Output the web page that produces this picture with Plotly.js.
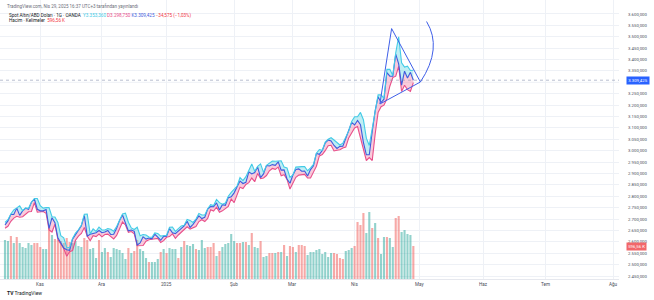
<!DOCTYPE html>
<html><head><meta charset="utf-8">
<script src="https://cdn.plot.ly/plotly-3.0.1.min.js"></script>
<style>html,body{margin:0;padding:0;background:#fff}#chart{width:654px;height:300px}</style>
</head><body><div id="chart"></div>
<script>
// Trading days (one bar each), Oct 16 2024 .. Apr 29 2025
const dates = [
'2024-10-16','2024-10-17','2024-10-18','2024-10-21','2024-10-22','2024-10-23','2024-10-24','2024-10-25','2024-10-28','2024-10-29','2024-10-30','2024-10-31',
'2024-11-01','2024-11-04','2024-11-05','2024-11-06','2024-11-07','2024-11-08','2024-11-11','2024-11-12','2024-11-13','2024-11-14','2024-11-15','2024-11-18','2024-11-19','2024-11-20','2024-11-21','2024-11-22','2024-11-25','2024-11-26','2024-11-27','2024-11-28','2024-11-29',
'2024-12-02','2024-12-03','2024-12-04','2024-12-05','2024-12-06','2024-12-09','2024-12-10','2024-12-11','2024-12-12','2024-12-13','2024-12-16','2024-12-17','2024-12-18','2024-12-19','2024-12-20','2024-12-23','2024-12-24','2024-12-25','2024-12-26','2024-12-27','2024-12-30','2024-12-31',
'2025-01-01','2025-01-02','2025-01-03','2025-01-06','2025-01-07','2025-01-08','2025-01-09','2025-01-10','2025-01-13','2025-01-14','2025-01-15','2025-01-16','2025-01-17','2025-01-20','2025-01-21','2025-01-22','2025-01-23','2025-01-24','2025-01-27','2025-01-28','2025-01-29','2025-01-30','2025-01-31',
'2025-02-03','2025-02-04','2025-02-05','2025-02-06','2025-02-07','2025-02-10','2025-02-11','2025-02-12','2025-02-13','2025-02-14','2025-02-17','2025-02-18','2025-02-19','2025-02-20','2025-02-21','2025-02-24','2025-02-25','2025-02-26','2025-02-27','2025-02-28',
'2025-03-03','2025-03-04','2025-03-05','2025-03-06','2025-03-07','2025-03-10','2025-03-11','2025-03-12','2025-03-13','2025-03-14','2025-03-17','2025-03-18','2025-03-19','2025-03-20','2025-03-21','2025-03-24','2025-03-25','2025-03-26','2025-03-27','2025-03-28','2025-03-31',
'2025-04-01','2025-04-02','2025-04-03','2025-04-04','2025-04-07','2025-04-08','2025-04-09','2025-04-10','2025-04-11','2025-04-14','2025-04-15','2025-04-16','2025-04-17','2025-04-18','2025-04-21','2025-04-22','2025-04-23','2025-04-24','2025-04-25','2025-04-28','2025-04-29'];

const highs = [
2685,2697,2722,2740,2749,2758,2737,2749,2747,2774,2790,2790,
2759,2748,2750,2750,2710,2709,2685,2627,2618,2576,2575,2615,2639,2653,2674,2721,2722,2635,2657,2646,2665,
2652,2652,2658,2655,2647,2667,2697,2722,2726,2686,2661,2654,2664,2627,2632,2630,2621,2620,2639,2637,2625,2627,
2629,2664,2665,2646,2660,2670,2673,2698,2694,2685,2700,2724,2718,2718,2745,2763,2759,2786,2772,2765,2770,2800,2817,
2830,2845,2882,2869,2886,2911,2942,2910,2931,2942,2905,2936,2947,2955,2954,2956,2956,2928,2924,2883,
2894,2928,2930,2930,2930,2912,2925,2940,2989,3005,3002,3038,3050,3057,3047,3036,3025,3033,3060,3087,3128,
3149,3149,3168,3136,3055,3023,3100,3176,3245,3245,3230,3357,3357,3330,3430,3500,3386,3367,3371,3352,3353.36];

const lows = [
2660,2668,2690,2704,2712,2708,2710,2720,2732,2733,2772,2730,
2733,2733,2725,2652,2643,2677,2610,2589,2571,2537,2557,2562,2607,2625,2637,2663,2625,2605,2627,2623,2634,
2622,2632,2634,2624,2613,2628,2657,2687,2674,2642,2645,2635,2583,2583,2584,2603,2609,2611,2612,2615,2597,2605,
2620,2623,2635,2615,2630,2642,2654,2666,2656,2660,2667,2689,2697,2689,2703,2741,2735,2752,2730,2736,2745,2755,2788,
2772,2806,2840,2834,2852,2860,2880,2864,2900,2877,2880,2891,2912,2922,2918,2928,2890,2895,2874,2832,
2858,2883,2893,2895,2896,2880,2880,2906,2932,2977,2983,3000,3022,3024,2999,3002,3004,3012,3016,3056,3076,
3100,3106,3054,3015,2957,2970,2957,3073,3168,3193,3200,3228,3283,3321,3327,3370,3260,3287,3268,3260,3298.75];

const closes = [
2674,2692,2721,2720,2748,2716,2736,2747,2743,2774,2788,2743,
2736,2736,2742,2659,2706,2684,2618,2598,2573,2565,2563,2612,2631,2650,2670,2715,2625,2633,2637,2640,2650,
2640,2643,2650,2632,2633,2660,2694,2718,2680,2648,2652,2646,2586,2595,2622,2612,2617,2613,2634,2621,2607,2624,
2625,2658,2640,2636,2648,2661,2670,2690,2663,2677,2697,2714,2702,2708,2744,2755,2754,2771,2740,2763,2760,2794,2798,
2815,2842,2867,2856,2861,2907,2898,2904,2928,2882,2898,2935,2933,2939,2936,2951,2915,2916,2876,2857,
2893,2918,2920,2910,2911,2889,2917,2934,2988,2984,3001,3034,3047,3043,3023,3010,3019,3020,3056,3084,3124,
3113,3133,3114,3037,2982,2982,3083,3176,3237,3211,3226,3343,3327,3327,3424,3381,3288,3349,3319,3344,3309.425];

// Volume in thousands
const volumes = [
705,687,777,651,759,651,579,560,651,615,651,651,579,542,542,940,
796,723,705,687,651,741,669,651,687,597,579,741,705,542,560,380,705,488,560,488,
398,560,542,524,470,362,560,470,506,705,542,506,380,307,307,307,362,488,542,470,
560,542,542,380,579,687,615,597,633,542,
524,705,560,579,579,651,416,506,579,633,651,814,687,651,651,669,669,615,832,579,
560,687,398,416,470,470,470,488,488,615,416,597,579,488,
615,615,597,434,488,488,524,542,452,488,398,470,470,452,380,362,506,524,560,597,
1031,976,1193,832,1211,922,1012,741,452,759,759,741,579,1103,1139,850,886,814,796,596.56];
const volUp = [
1,1,0,1,0,1,1,1,1,1,0,0,0,1,1,0,
1,0,0,0,0,0,0,1,1,1, 1,0,0,1,1,1,0,1,1,0, 1,1,1,1,1,1,0,1,0,0, 1,1,1,0,1,1,1,0,1,0, 1,1,1,0,1,0,1,1,1,0,
1,1,1,0,0,0,1,0,1,1, 1,1,1,0,0,1,0,1,0,1, 1,0,1,1,0,0,1,0,1,0, 1,0,0,1,
0,0,0,1,1,1,1,1,1,1, 1,1,0,0,0,0,1,1,1,0,
0,0,0,1,1,0,1,0,1,1, 0,1,1,0,0,1,1,1,1,0];

// Time scale: bar index of each month's first session, and labels
const monthTickBar = [12,33,55,78,98,119,141,163,184,207];
const monthTickText = ['Kas','Ara','2025','Şub','Mar','Nis','May','Haz','Tem','Ağu'];
// Price scale labels shown (3.300,000 is covered by the last-price label)
const priceTicks = [2450,2500,2550,2600,2650,2700,2750,2800,2850,2900,2950,3000,3050,3100,3150,3200,3250,3350,3400,3450,3500,3550,3600];
const priceGrid = [3300];

// Drawings (bar index, price)
const triBar = [127.6,131.6,141.4];
const triPrice = [3205,3536,3301.5];
const arcBar = [143.5,149.0,141.4];
const arcPrice = [3567,3450,3301.5];

function fmt(v,d){
  const s=Math.abs(v).toFixed(d); let p=s.split('.');
  let i=p[0].replace(/\B(?=(\d{3})+(?!\d))/g,'.');
  return (v<0?'−':'')+i+(p[1]?','+p[1]:'');
}

const bars = dates.map((d,i)=>i);
const cHigh='#44cbe6', cLow='#e8508a', cClose='#3f5bdc';
const FONT='Roboto, "Liberation Sans", sans-serif';

const traces = [
  {type:'bar', x:bars, y:volumes, yaxis:'y', hoverinfo:'skip',
   marker:{color:volUp.map(u=>u?'rgba(38,166,154,0.5)':'rgba(239,83,80,0.5)'), line:{width:0}}},
  {type:'scatter', mode:'lines', x:bars, y:lows, yaxis:'y2', line:{color:cLow,width:1.1}, hoverinfo:'skip'},
  {type:'scatter', mode:'lines', x:bars, y:closes, yaxis:'y2', fill:'tonexty', fillcolor:'rgba(240,98,146,0.33)', line:{color:cClose,width:1.1}, hoverinfo:'skip'},
  {type:'scatter', mode:'lines', x:bars, y:highs, yaxis:'y2', fill:'tonexty', fillcolor:'rgba(77,208,225,0.36)', line:{color:cHigh,width:1.1}, hoverinfo:'skip'}
];

const n=closes.length, last=closes[n-1], prev=closes[n-2];
const chg=last-prev, pct=chg/prev*100;

const shapes = [
  ...priceGrid.map(p=>({type:'line', layer:'below', xref:'paper', x0:0, x1:1, yref:'y2', y0:p, y1:p, line:{color:'#eef1f6', width:1}})),
  {type:'line', xref:'paper', x0:0, x1:1, yref:'y2', y0:last, y1:last, line:{color:'rgba(130,140,170,0.7)', width:0.8, dash:'dot'}},
  {type:'path', xref:'x', yref:'y2', path:`M ${triBar[0]},${triPrice[0]} L ${triBar[1]},${triPrice[1]} L ${triBar[2]},${triPrice[2]} Z`,
   line:{color:'#3f5fe8', width:1}, fillcolor:'rgba(0,0,0,0)'},
  {type:'path', xref:'x', yref:'y2', path:`M ${arcBar[0]},${arcPrice[0]} Q ${arcBar[1]},${arcPrice[1]} ${arcBar[2]},${arcPrice[2]}`,
   line:{color:'#3f5fe8', width:1}, fillcolor:'rgba(0,0,0,0)'}
];

const monthLabels = monthTickBar.map((b,i)=>({xref:'x', yref:'paper', x:b, y:0, yshift:-5, xanchor:'center', yanchor:'middle',
  showarrow:false, text:monthTickText[i], font:{family:FONT,size:4.6,color:'#4a4e59'}}));

const layout = {
  width:654, height:300, margin:{l:0,r:35,t:0,b:21},
  paper_bgcolor:'#fff', plot_bgcolor:'#fff', showlegend:false, separators:',.',
  bargap:0.28, font:{family:FONT},
  xaxis:{range:[-1.7,209], tickvals:monthTickBar, showticklabels:false, showgrid:true, gridcolor:'#eef1f6', gridwidth:1,
         zeroline:false, showline:true, linecolor:'#e6e8ee', ticks:'', fixedrange:true},
  yaxis:{range:[0,5044], showgrid:false, showticklabels:false, zeroline:false, showline:false, ticks:'', fixedrange:true},
  yaxis2:{overlaying:'y', side:'right', anchor:'x', range:[2436.9,3661.4], tickvals:priceTicks, tickformat:',.3f',
          showgrid:true, gridcolor:'#eef1f6', gridwidth:1, zeroline:false, showline:false, ticks:'', ticklabelstandoff:8,
          tickfont:{family:FONT,size:4.3,color:'#4a4e59'}, fixedrange:true},
  shapes:shapes,
  annotations:[
    ...monthLabels,
    {xref:'paper', yref:'paper', x:0, y:1, xshift:5, yshift:-5.7, xanchor:'left', yanchor:'middle', showarrow:false,
     text:'TradingView.com, Nis 29, 2025 16:37 UTC+3 tarafından yayınlandı', font:{family:FONT,size:4.5,color:'#6a6d78'}},
    {xref:'paper', yref:'paper', x:0, y:1, xshift:7, yshift:-15, xanchor:'left', yanchor:'middle', showarrow:false,
     text:`Spot Altın/ABD Doları · 1G · OANDA  <span style="color:${cHigh}">Y${fmt(highs[n-1],3)}</span> <span style="color:${cLow}">D${fmt(lows[n-1],3)}</span> <span style="color:${cClose}">K${fmt(last,3)}</span> <span style="color:#f23645">${fmt(chg,3)} (${fmt(pct,2)}%)</span>`,
     font:{family:FONT,size:4.6,color:'#131722'}},
    {xref:'paper', yref:'paper', x:0, y:1, xshift:7, yshift:-20.5, xanchor:'left', yanchor:'middle', showarrow:false,
     text:`Hacim · Kelimeler  <span style="color:#f23645">${fmt(volumes[n-1],2)} K</span>`, font:{family:FONT,size:4.6,color:'#131722'}},
    {xref:'paper', yref:'y2', x:1, y:last, xshift:7, xanchor:'left', yanchor:'middle', showarrow:false,
     text:fmt(last,3), bgcolor:'#2962ff', borderpad:1.2, font:{family:FONT,size:4.3,color:'#ffffff'}},
    {xref:'paper', yref:'y', x:1, y:volumes[n-1], xshift:7, xanchor:'left', yanchor:'middle', showarrow:false,
     text:fmt(volumes[n-1],2)+' K', bgcolor:'#f2676a', borderpad:1.2, font:{family:FONT,size:4.3,color:'#ffffff'}},
    {xref:'paper', yref:'paper', x:0, y:0, xshift:5, yshift:-14, xanchor:'left', yanchor:'middle', showarrow:false,
     text:'<b>TV</b> TradingView', font:{family:FONT,size:5,color:'#131722'}}
  ]
};

Plotly.newPlot('chart', traces, layout, {displayModeBar:false, staticPlot:true});
</script></body></html>
